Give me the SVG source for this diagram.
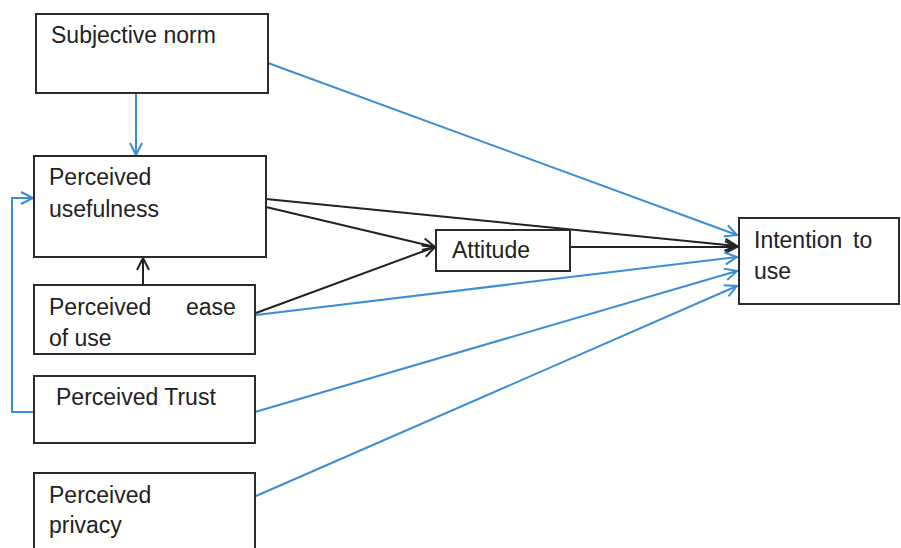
<svg xmlns="http://www.w3.org/2000/svg" width="901" height="548" viewBox="0 0 901 548">
<style>
.box{fill:#fff;stroke:#2b2b2b;stroke-width:2}
.t{font-family:"Liberation Sans",Arial,sans-serif;font-size:23px;fill:#222}
.b{fill:none;stroke:#3a8dd6;stroke-width:2}
.k{fill:none;stroke:#222;stroke-width:2}
</style>
<defs>
<marker id="ab" markerUnits="userSpaceOnUse" markerWidth="16" markerHeight="16" refX="13" refY="7" orient="auto" viewBox="0 0 16 14">
<path d="M1,1 L13,7 L1,13" fill="none" stroke="#3a8dd6" stroke-width="2"/>
</marker>
<marker id="ak" markerUnits="userSpaceOnUse" markerWidth="16" markerHeight="16" refX="13" refY="7" orient="auto" viewBox="0 0 16 14">
<path d="M1,1 L13,7 L1,13" fill="none" stroke="#222" stroke-width="2"/>
</marker>
</defs>
<rect width="901" height="548" fill="#fff"/>
<g id="connectors">
<line class="b" x1="136" y1="93" x2="136" y2="155" marker-end="url(#ab)"/>
<line class="b" x1="268" y1="63" x2="737" y2="235" marker-end="url(#ab)"/>
<line class="k" x1="266" y1="199" x2="737" y2="246" marker-end="url(#ak)"/>
<line class="k" x1="266" y1="207" x2="435" y2="247" marker-end="url(#ak)"/>
<line class="k" x1="256" y1="313" x2="435" y2="247" marker-end="url(#ak)"/>
<line class="k" x1="570" y1="247" x2="737" y2="247" marker-end="url(#ak)"/>
<line class="b" x1="256" y1="315" x2="737" y2="257" marker-end="url(#ab)"/>
<line class="b" x1="255" y1="412" x2="737" y2="271" marker-end="url(#ab)"/>
<line class="b" x1="256" y1="496" x2="737" y2="286" marker-end="url(#ab)"/>
<polyline class="b" points="34,412 12,412 12,198 33,198" marker-end="url(#ab)"/>
<line class="k" x1="143" y1="285" x2="143" y2="258" marker-end="url(#ak)"/>
</g>
<g id="subjective-norm">
<rect class="box" x="36" y="14" width="232" height="79"/>
<text class="t" x="51" y="43">Subjective norm</text>
</g>
<g id="perceived-usefulness">
<rect class="box" x="34" y="156" width="232" height="101"/>
<text class="t" x="49" y="185">Perceived</text>
<text class="t" x="49" y="217">usefulness</text>
</g>
<g id="perceived-ease-of-use">
<rect class="box" x="34" y="285" width="221" height="69"/>
<text class="t" x="49" y="315">Perceived</text>
<text class="t" x="186" y="315">ease</text>
<text class="t" x="49" y="346">of use</text>
</g>
<g id="perceived-trust">
<rect class="box" x="34" y="376" width="221" height="67"/>
<text class="t" x="56" y="405">Perceived Trust</text>
</g>
<g id="perceived-privacy">
<rect class="box" x="34" y="473" width="221" height="90"/>
<text class="t" x="49" y="503">Perceived</text>
<text class="t" x="49" y="533">privacy</text>
</g>
<g id="attitude">
<rect class="box" x="436" y="230" width="134" height="41"/>
<text class="t" x="452" y="258">Attitude</text>
</g>
<g id="intention-to-use">
<rect class="box" x="739" y="218" width="160" height="86"/>
<text class="t" x="754" y="248">Intention</text>
<text class="t" x="853" y="248">to</text>
<text class="t" x="754" y="279">use</text>
</g>
</svg>
